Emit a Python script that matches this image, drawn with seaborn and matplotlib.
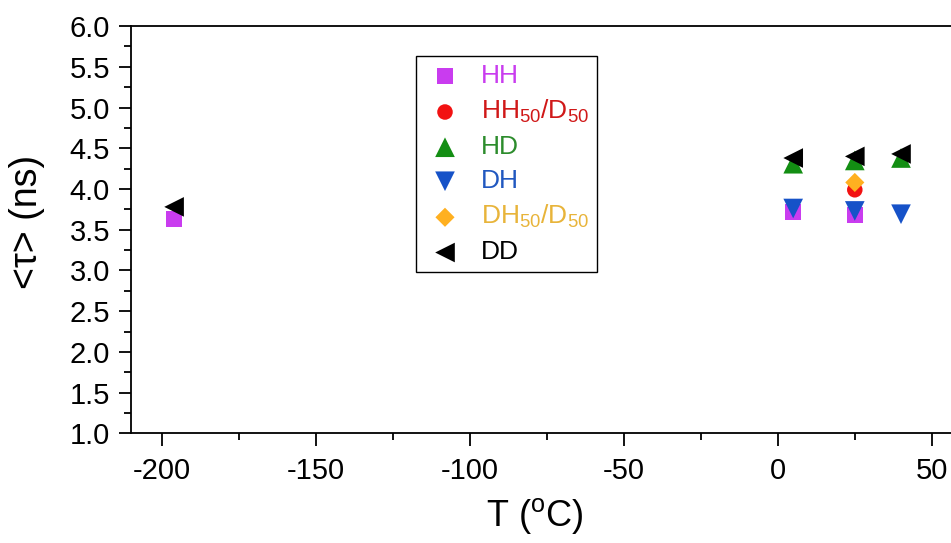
import matplotlib
matplotlib.use("Agg")
import matplotlib.pyplot as plt
import seaborn as sns

# Mean fluorescence lifetime <tau> versus temperature for each isotopologue pair
labels = ["HH", "HH$_{\\mathrm{50}}$/D$_{\\mathrm{50}}$", "HD", "DH",
          "DH$_{\\mathrm{50}}$/D$_{\\mathrm{50}}$", "DD"]
temps_hh = [-196, 5, 25]
tau_hh = [3.63, 3.72, 3.68]
temps_hh50 = [25]
tau_hh50 = [3.99]
temps_hd = [5, 25, 40]
tau_hd = [4.31, 4.35, 4.38]
temps_dh = [5, 25, 40]
tau_dh = [3.76, 3.73, 3.69]
temps_dh50 = [25]
tau_dh50 = [4.08]
temps_dd = [-196, 5, 25, 40]
tau_dd = [3.78, 4.38, 4.40, 4.43]

x_ticks = [-200, -150, -100, -50, 0, 50]
y_ticks = [1.0, 1.5, 2.0, 2.5, 3.0, 3.5, 4.0, 4.5, 5.0, 5.5, 6.0]

marker_colors = ["#C93CEF", "#F21212", "#138E13", "#1652C8", "#FFB020", "#000000"]
text_colors = ["#C93CEF", "#D01818", "#2C8C2C", "#2158C0", "#E8B43A", "#000000"]
markers = ["s", "o", "^", "v", "D", "<"]
sizes = [125, 125, 200, 200, 95, 200]

sns.set_style("ticks")
plt.rcParams["font.family"] = ["Liberation Sans", "DejaVu Sans"]
plt.rcParams["mathtext.fontset"] = "custom"
plt.rcParams["mathtext.rm"] = "Liberation Sans"
plt.rcParams["mathtext.it"] = "Liberation Sans:italic"
plt.rcParams["mathtext.bf"] = "Liberation Sans:bold"
plt.rcParams["text.color"] = "black"
plt.rcParams["axes.labelcolor"] = "black"
plt.rcParams["xtick.color"] = "black"
plt.rcParams["ytick.color"] = "black"

fig = plt.figure(figsize=(9.51, 5.43), dpi=100)
ax = fig.add_axes([0.1377, 0.2020, 0.8745, 0.7500])

series = [
    (temps_hh, tau_hh),
    (temps_hh50, tau_hh50),
    (temps_hd, tau_hd),
    (temps_dh, tau_dh),
    (temps_dh50, tau_dh50),
    (temps_dd, tau_dd),
]
for (xs, ys), lab, col, mk, sz in zip(series, labels, marker_colors, markers, sizes):
    sns.scatterplot(x=xs, y=ys, marker=mk, color=col, s=sz, linewidth=0,
                    edgecolor="none", label=lab, ax=ax, zorder=3)

ax.set_xlim(-210, 60)
ax.set_ylim(1.0, 6.0)
ax.set_xticks(x_ticks)
ax.set_xticklabels([str(v) for v in x_ticks])
ax.set_yticks(y_ticks)
ax.set_yticklabels([f"{v:.1f}" for v in y_ticks])
ax.set_xticks([-175, -125, -75, -25, 25], minor=True)
ax.set_yticks([1.25 + 0.5 * i for i in range(10)], minor=True)

for side in ["left", "top", "bottom"]:
    ax.spines[side].set_linewidth(1.3)
    ax.spines[side].set_color("black")
ax.spines["right"].set_visible(False)
ax.spines["top"].set_visible(True)

ax.tick_params(axis="both", which="major", direction="out", length=9,
               width=1.3, labelsize=21, pad=6, color="black", labelcolor="black")
ax.tick_params(axis="x", which="major", pad=8)
ax.tick_params(axis="both", which="minor", direction="out", length=5,
               width=1.3, color="black")

ax.set_xlabel("T ($^{\\mathrm{o}}$C)", fontsize=26, color="black")
ax.set_ylabel("<τ> (ns)", fontsize=27, color="black")
ax.xaxis.set_label_coords(0.485, -0.155)
ax.yaxis.set_label_coords(-0.103, 0.52)

leg = ax.legend(loc="upper left", bbox_to_anchor=(0.4374, 0.8969),
                bbox_transform=fig.transFigure, borderaxespad=0,
                frameon=True, fancybox=False, framealpha=1,
                edgecolor="black", fontsize=19, labelspacing=0.38,
                handletextpad=0.55, borderpad=0.3, handlelength=1.6,
                scatterpoints=1)
leg.get_frame().set_linewidth(1.0)
for txt, col in zip(leg.get_texts(), text_colors):
    txt.set_color(col)

fig.savefig("out.png", dpi=100)
